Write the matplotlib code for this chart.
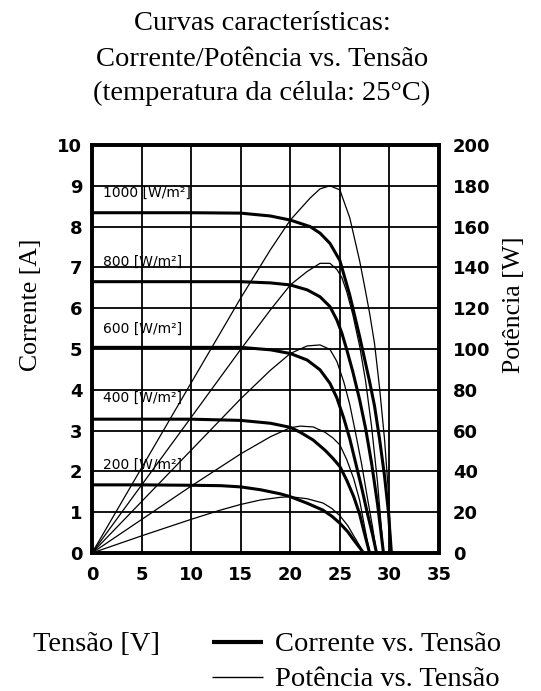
"""Solar panel I-V and P-V characteristic curves at five irradiance levels."""

import matplotlib
matplotlib.use("Agg")
import matplotlib.pyplot as plt
from matplotlib.lines import Line2D


TITLE_LINES = [
    "Curvas características:",
    "Corrente/Potência vs. Tensão",
    "(temperatura da célula: 25°C)",
]

IRRADIANCE_LABELS = ["1000 [W/m²]", "800 [W/m²]", "600 [W/m²]",
                     "400 [W/m²]", "200 [W/m²]"]
LABEL_CURRENT = [8.82, 7.13, 5.49, 3.80, 2.16]   # where each label sits (A)

# voltage [V], current [A], power [W], per irradiance
V_1000 = [0, 5, 10, 15, 18, 20, 22, 23, 24, 25, 26, 27, 27.5, 28, 28.5, 29, 29.5, 29.9, 30.2]
I_1000 = [8.34, 8.34, 8.34, 8.33, 8.26, 8.16, 8.00, 7.84, 7.59, 7.17, 6.32, 5.30, 4.75, 4.20,
          3.60, 2.80, 1.90, 1.00, 0]
P_1000 = [0, 41.7, 83.4, 125.0, 148.7, 163.2, 174.0, 178.5, 180.0, 178.0, 164.3, 143.1, 130.6,
          117.6, 102.6, 81.2, 56.1, 29.9, 0]

V_800 = [0, 5, 10, 15, 18, 20, 21.7, 23, 24, 24.7, 25.2, 25.7, 26.3, 27, 27.6, 28.2, 28.8, 29.4]
I_800 = [6.65, 6.65, 6.65, 6.65, 6.62, 6.57, 6.45, 6.28, 6.04, 5.71, 5.39, 4.98, 4.45, 3.75,
         3.05, 2.20, 1.20, 0]
P_800 = [0, 33.3, 66.5, 99.8, 119.2, 131.4, 138.0, 142.0, 142.0, 139.0, 135.0, 128.0, 117.0,
         101.3, 84.2, 62.0, 34.6, 0]

V_600 = [0, 5, 10, 15, 18, 20, 21.7, 23, 24, 24.7, 25.4, 26, 26.6, 27.2, 27.8, 28.3, 28.7]
I_600 = [5.04, 5.04, 5.04, 5.04, 4.98, 4.89, 4.73, 4.49, 4.16, 3.80, 3.30, 2.80, 2.20, 1.60,
         0.95, 0.45, 0]
P_600 = [0, 25.2, 50.4, 75.6, 89.6, 97.8, 101.5, 102.0, 99.8, 93.9, 83.8, 72.8, 58.5, 43.5,
         26.4, 12.7, 0]

V_400 = [0, 5, 10, 15, 18, 20, 21, 22.3, 23.5, 24.3, 25, 25.7, 26.4, 27, 27.4, 28]
I_400 = [3.28, 3.28, 3.28, 3.25, 3.18, 3.08, 2.96, 2.77, 2.52, 2.32, 2.12, 1.78, 1.38, 0.95,
         0.56, 0]
P_400 = [0, 16.4, 32.8, 48.6, 57.0, 61.4, 62.2, 61.8, 59.2, 56.4, 53.0, 45.7, 36.4, 25.7,
         15.3, 0]

V_200 = [0, 5, 10, 13, 15, 17, 19, 20, 21.7, 23.3, 24.2, 25, 25.8, 26.4, 27, 27.4]
I_200 = [1.67, 1.67, 1.66, 1.65, 1.62, 1.55, 1.45, 1.38, 1.22, 1.05, 0.90, 0.73, 0.52, 0.32,
         0.13, 0]
P_200 = [0, 8.4, 16.5, 21.1, 23.8, 26.0, 27.3, 27.6, 26.6, 24.5, 21.8, 18.3, 13.4, 8.4, 3.5, 0]

CURVES = [
    (V_1000, I_1000, P_1000),
    (V_800, I_800, P_800),
    (V_600, I_600, P_600),
    (V_400, I_400, P_400),
    (V_200, I_200, P_200),
]

X_TICKS = [0, 5, 10, 15, 20, 25, 30, 35]
I_TICKS = list(range(0, 11))
P_TICKS = list(range(0, 201, 20))

SERIF = "Liberation Serif"
TICK_FONT = dict(family="DejaVu Sans", weight="bold", size=13)


def main():
    W, H = 541, 691
    fig = plt.figure(figsize=(W / 100, H / 100), dpi=100)
    ax = fig.add_axes([92 / W, 1 - 553 / H, (439 - 92) / W, (553 - 145) / H])
    ax2 = ax.twinx()

    for v, i, p in CURVES:
        ax.plot(v, i, color="black", lw=2.2, solid_capstyle="butt", zorder=3)
        ax2.plot(v, p, color="black", lw=0.9, zorder=3)

    for label, y in zip(IRRADIANCE_LABELS, LABEL_CURRENT):
        ax.text(1.1, y, label, fontsize=10, family="DejaVu Sans",
                va="center", ha="left", zorder=4)

    ax.set_xlim(0, 35)
    ax.set_ylim(0, 10)
    ax2.set_ylim(0, 200)
    ax.set_xticks(X_TICKS)
    ax.set_yticks(I_TICKS)
    ax2.set_yticks(P_TICKS)
    ax.set_xticklabels([str(t) for t in X_TICKS], fontdict=TICK_FONT)
    ax.set_yticklabels([str(t) for t in I_TICKS], fontdict=TICK_FONT)
    ax2.set_yticklabels([str(t) for t in P_TICKS], fontdict=TICK_FONT)
    ax.tick_params(axis="x", length=0, pad=9)
    ax.tick_params(axis="y", length=0, pad=7)
    ax2.tick_params(axis="y", length=0, pad=10)

    ax.grid(True, color="black", lw=1.3, zorder=1)
    ax.set_axisbelow(True)
    for a in (ax, ax2):
        for sp in a.spines.values():
            sp.set_linewidth(2.6)
            sp.set_color("black")

    # titles and axis labels in figure pixels
    for text, base in zip(TITLE_LINES, [30, 66, 100]):
        fig.text(262 / W, 1 - base / H, text, family=SERIF, fontsize=20.5,
                 ha="center", va="baseline")
    fig.text(31 / W, 1 - 305 / H, "Corrente [A]", family=SERIF, fontsize=18.5,
             rotation=90, ha="center", va="center")
    fig.text(514 / W, 1 - 305 / H, "Potência [W]", family=SERIF, fontsize=18.5,
             rotation=90, ha="center", va="center")
    fig.text(33 / W, 1 - 651 / H, "Tensão [V]", family=SERIF, fontsize=20.5,
             ha="left", va="baseline")

    # legend drawn by hand below the plot
    fig.add_artist(Line2D([212 / W, 263 / W], [1 - 642 / H] * 2, color="black",
                          lw=3.0, solid_capstyle="butt"))
    fig.add_artist(Line2D([212 / W, 263 / W], [1 - 677 / H] * 2, color="black",
                          lw=1.0, solid_capstyle="butt"))
    fig.text(275 / W, 1 - 651 / H, "Corrente vs. Tensão", family=SERIF,
             fontsize=20.5, ha="left", va="baseline")
    fig.text(275 / W, 1 - 686 / H, "Potência vs. Tensão", family=SERIF,
             fontsize=20.5, ha="left", va="baseline")

    fig.savefig("out.png", dpi=100)


if __name__ == "__main__":
    main()
